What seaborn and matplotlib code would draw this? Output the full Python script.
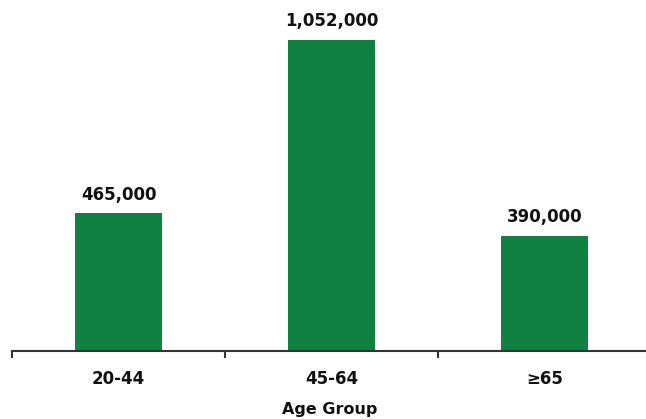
import matplotlib
matplotlib.use("Agg")
import matplotlib.pyplot as plt
import seaborn as sns

# valores
age_groups = ["20-44", "45-64", "≥65"]
counts = [465000, 1052000, 390000]
value_labels = ["465,000", "1,052,000", "390,000"]

sns.set_style("white")
plt.rcParams["font.family"] = ["DejaVu Sans"]

fig = plt.figure(figsize=(6.46, 4.19), dpi=100)
ax = fig.add_axes([12 / 646, 68 / 419, 639 / 646, 351 / 419])

sns.barplot(x=age_groups, y=counts, color="#118142", saturation=1,
            width=0.41, linewidth=0, ax=ax)

ax.bar_label(ax.containers[0], labels=value_labels, padding=7,
             fontsize=12, fontweight="bold", color="#111111")

ax.set_xlim(-0.5, 2.5)
ax.set_ylim(0, 1186000)

for side in ["top", "right", "left"]:
    ax.spines[side].set_visible(False)
ax.spines["bottom"].set_color("#333333")
ax.spines["bottom"].set_linewidth(1.5)

ax.set_yticks([])
ax.set_xticks([-0.5, 0.5, 1.5, 2.5], minor=True)
ax.tick_params(axis="x", which="major", length=0, pad=14,
               labelsize=12, labelcolor="#111111")
ax.tick_params(axis="x", which="minor", bottom=True, length=5, width=1.5,
               color="#333333", direction="out")
for lbl in ax.get_xticklabels():
    lbl.set_fontweight("bold")

ax.set_xlabel("Age Group", fontsize=11.5, fontweight="bold",
              color="#111111")
ax.xaxis.set_label_coords(318 / 639, -51 / 351)
ax.set_ylabel("")

fig.savefig("out.png", dpi=100)
